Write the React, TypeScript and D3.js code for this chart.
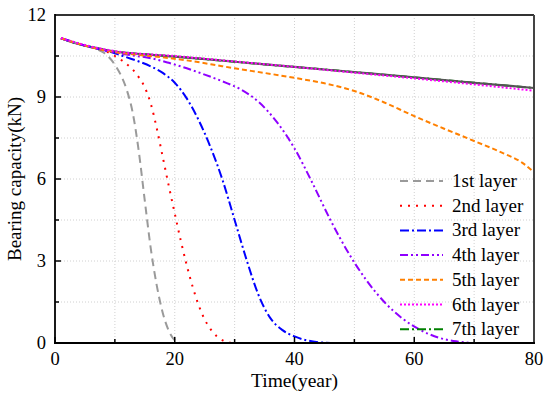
import React from 'react';
import * as d3 from 'd3';

// [year, kN]
const intact = [[1, 11.15], [3, 11.0], [5, 10.88], [8, 10.74], [10, 10.66], [15, 10.56], [20, 10.48], [30, 10.29], [40, 10.1], [50, 9.91], [60, 9.72], [70, 9.52], [80, 9.33]];
const layer1 = [[1, 11.15], [5, 10.88], [7, 10.75], [8.3, 10.6], [10, 10.18], [11, 9.8], [12, 9.25], [13, 8.4], [14, 7.0], [15, 5.2], [16, 3.45], [17, 2.1], [18, 1.1], [19, 0.45], [20, 0.1], [20.9, 0]];
const layer2 = [[1, 11.15], [5, 10.88], [8, 10.72], [10, 10.5], [12, 10.2], [13, 10.0], [14, 9.72], [15, 9.35], [16, 8.75], [17, 7.85], [18, 6.8], [19, 5.75], [20, 4.74], [21, 3.75], [22, 2.85], [23, 2.05], [24, 1.38], [25, 0.86], [26, 0.5], [27, 0.25], [28, 0.1], [29.5, 0]];
const layer3 = [[1, 11.15], [5, 10.88], [8, 10.72], [10, 10.6], [12, 10.45], [14, 10.3], [16, 10.12], [18, 9.88], [20, 9.52], [22, 8.95], [24, 8.15], [26, 7.15], [28, 5.95], [30, 4.5], [32, 3.04], [34, 1.75], [36, 0.9], [38, 0.47], [40, 0.24], [42, 0.1], [44, 0.03], [46, 0]];
const layer4 = [[1, 11.15], [5, 10.88], [8, 10.72], [10, 10.63], [13, 10.52], [16, 10.42], [19, 10.25], [22, 10.05], [25, 9.82], [28, 9.57], [31, 9.28], [34, 8.82], [37, 8.1], [40, 7.12], [43, 5.85], [46, 4.5], [49, 3.3], [52, 2.3], [55, 1.5], [58, 0.9], [61, 0.48], [64, 0.2], [67, 0.06], [69.5, 0]];
const layer5 = [[1, 11.15], [5, 10.88], [8, 10.72], [10, 10.64], [14, 10.54], [18, 10.45], [22, 10.34], [26, 10.2], [30, 10.05], [35, 9.88], [40, 9.7], [45, 9.5], [50, 9.22], [55, 8.8], [60, 8.3], [65, 7.84], [70, 7.39], [75, 6.93], [78, 6.6], [80, 6.25]];
const layer6 = [[1, 11.16], [5, 10.9], [10, 10.68], [20, 10.5], [30, 10.3], [40, 10.1], [50, 9.89], [60, 9.68], [70, 9.46], [80, 9.23]];
const layer7 = intact;

const layerNames = ['1st layer', '2nd layer', '3rd layer', '4th layer', '5th layer', '6th layer', '7th layer'];
const layerData = [layer1, layer2, layer3, layer4, layer5, layer6, layer7];
const layerColors = ['#9a9a9a', '#ff0000', '#0000ff', '#8f00ff', '#ff8000', '#ff00ff', '#008000'];
const layerDash = ['8,5', '2,6', '9,3,2,3', '8,3,2,3,2,3', '5,3', '2,2', '9,3,2,3'];

const xTicks = [0, 20, 40, 60, 80];
const yTicks = [0, 3, 6, 9, 12];

const W = 550, H = 393;
const left = 55, right = 534, top = 15, bottom = 343;

const App = () => {
    const x = d3.scaleLinear().domain([0, 80]).range([left, right]);
    const y = d3.scaleLinear().domain([0, 12]).range([bottom, top]);
    const line = d3.line<number[]>()
        .x(d => x(d[0]))
        .y(d => y(d[1]))
        .curve(d3.curveMonotoneX);

    const xGrid = d3.range(10, 80, 10);
    const yGrid = d3.range(1.5, 12, 1.5);
    const font = '"Liberation Serif", "Times New Roman", serif';

    return (
        <svg width={W} height={H} style={{ position: 'absolute', left: 0, top: 0 }} fontFamily={font}>
            <rect x={0} y={0} width={W} height={H} fill="#fff" />
            <g className="grid">
                {xGrid.map(v => (
                    <line key={'gx' + v} x1={x(v)} x2={x(v)} y1={top} y2={bottom} stroke="#d0d0d0" strokeWidth={1} strokeDasharray="1,2" />
                ))}
                {yGrid.map(v => (
                    <line key={'gy' + v} x1={left} x2={right} y1={y(v)} y2={y(v)} stroke="#d0d0d0" strokeWidth={1} strokeDasharray="1,2" />
                ))}
            </g>
            <g className="lines" fill="none">
                {/* 7th layer sits under the grey intact curve */}
                <path d={line(layer7 as any) || ''} stroke={layerColors[6]} strokeWidth={2} strokeDasharray={layerDash[6]} />
                <path d={line(intact as any) || ''} stroke="#555" strokeWidth={2.2} />
                {[0, 1, 2, 3, 4, 5].map(i => (
                    <path key={i} d={line(layerData[i] as any) || ''} stroke={layerColors[i]} strokeWidth={2} strokeDasharray={layerDash[i]} />
                ))}
            </g>
            <g className="axes">
                {d3.range(0, 81, 10).map(v => (
                    <line key={'tx' + v} x1={x(v)} x2={x(v)} y1={bottom} y2={bottom - (v % 20 === 0 ? 6 : 4)} stroke="#000" strokeWidth={1.5} />
                ))}
                {d3.range(0, 12.1, 1.5).map(v => (
                    <line key={'ty' + v} x1={left} x2={left + (v % 3 === 0 ? 6 : 4)} y1={y(v)} y2={y(v)} stroke="#000" strokeWidth={1.5} />
                ))}
                <line x1={left} x2={right} y1={top} y2={top} stroke="#333" strokeWidth={1.8} />
                <line x1={right} x2={right} y1={top} y2={bottom} stroke="#444" strokeWidth={2} />
                <line x1={left} x2={left} y1={top - 1} y2={bottom + 1} stroke="#000" strokeWidth={1.8} />
                <line x1={left - 1} x2={right + 1} y1={bottom} y2={bottom} stroke="#000" strokeWidth={1.8} />
                {xTicks.map(v => (
                    <text key={'lx' + v} x={x(v)} y={365} textAnchor="middle" fontSize={18.5}>{v}</text>
                ))}
                {yTicks.map(v => (
                    <text key={'ly' + v} x={46} y={y(v)} dy="0.35em" textAnchor="end" fontSize={18.5}>{v}</text>
                ))}
                <text x={(left + right) / 2} y={387} textAnchor="middle" fontSize={19.5}>Time(year)</text>
                <text transform={`translate(21, ${(top + bottom) / 2}) rotate(-90)`} textAnchor="middle" fontSize={19}>Bearing capacity(kN)</text>
            </g>
            <g className="legend">
                {layerNames.map((name, i) => {
                    const ly = 181 + i * 24.7;
                    return (
                        <g key={name}>
                            <line x1={400} x2={443} y1={ly} y2={ly} stroke={layerColors[i]} strokeWidth={2} strokeDasharray={layerDash[i]} />
                            <text x={452} y={ly + 6} fontSize={19}>{name}</text>
                        </g>
                    );
                })}
            </g>
        </svg>
    );
};

export default App;
